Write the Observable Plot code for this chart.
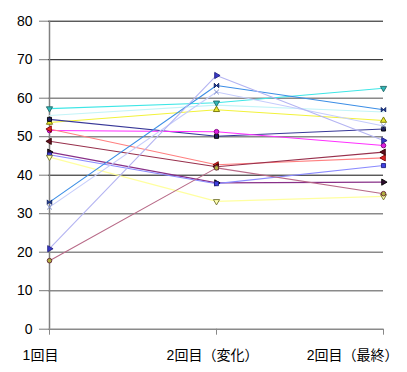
<!DOCTYPE html>
<html>
<head>
<meta charset="utf-8">
<script src="https://cdn.jsdelivr.net/npm/d3@7"></script>
<script src="https://cdn.jsdelivr.net/npm/@observablehq/plot@0.6"></script>
<style>
  html, body { margin: 0; padding: 0; background: #fff; }
  #chart { width: 407px; height: 372px; }
</style>
</head>
<body>
<div id="chart"></div>
<script>
// ---- data ----
const categories = ["1回目", "2回目（変化）", "2回目（最終）"];
const yTicks = [0, 10, 20, 30, 40, 50, 60, 70, 80];

const seriesNames = ["s01","s02","s03","s04","s05","s06","s07","s08","s09","s10","s11","s12","s13","s14"];
const s01 = [57.3, 58.8, 62.6];
const s02 = [55.5, 58.2, 56.4];
const s03 = [53.7, 57.0, 54.2];
const s04 = [54.5, 50.1, 52.0];
const s05 = [51.6, 51.3, 47.7];
const s06 = [52.0, 42.7, 44.5];
const s07 = [48.8, 42.2, 46.0];
const s08 = [46.0, 38.0, 38.2];
const s09 = [45.3, 37.8, 42.5];
const s10 = [44.7, 33.2, 34.5];
const s11 = [33.0, 63.3, 57.0];
const s12 = [31.7, 61.6, 52.8];
const s13 = [20.9, 65.9, 49.0];
const s14 = [17.8, 41.9, 35.2];
const seriesValues = [s01,s02,s03,s04,s05,s06,s07,s08,s09,s10,s11,s12,s13,s14];

// ---- styles ----
const lineColors = ["#3ee6e6","#c4f4f8","#f2f23a","#383898","#ff30ff","#ff8080","#98304c","#883088","#8a8aff","#ffffa0","#3c8ee6","#c6cdfc","#b4b4f2","#b86a88"];
const bowtie = {
  draw(ctx, size) {
    const s = Math.sqrt(size) * 0.55;
    ctx.moveTo(-s, -s); ctx.lineTo(s, s); ctx.lineTo(s, -s); ctx.lineTo(-s, s); ctx.closePath();
  }
};
const markers = [
  {symbol: "triangle", rotate: 180, fill: "#30b8b8", stroke: "#206868"},
  null,
  {symbol: "triangle", rotate: 0, fill: "#e8e830", stroke: "#707000"},
  {symbol: "square", rotate: 0, fill: "#202060", stroke: "#000000"},
  {symbol: "circle", rotate: 0, fill: "#e020e0", stroke: "#800080"},
  {symbol: "triangle", rotate: -90, fill: "#e02828", stroke: "#800000"},
  {symbol: "triangle", rotate: -90, fill: "#601020", stroke: "#300000"},
  {symbol: "triangle", rotate: 90, fill: "#301030", stroke: "#000000"},
  {symbol: "square", rotate: 0, fill: "#4040e0", stroke: "#202080"},
  {symbol: "triangle", rotate: 180, fill: "#ffffb0", stroke: "#707030"},
  {symbol: bowtie, rotate: 0, fill: "#2040a0", stroke: "#102060"},
  {symbol: "times", rotate: 0, fill: "none", stroke: "#7080c0"},
  {symbol: "triangle", rotate: 90, fill: "#3838c8", stroke: "#202080"},
  {symbol: "circle", rotate: 0, fill: "#b0b040", stroke: "#602030"}
];

const rows = [];
seriesNames.forEach((name, i) => {
  categories.forEach((c, j) => rows.push({series: name, cat: c, value: seriesValues[i][j]}));
});

const font = "'Liberation Sans', Arial, 'Noto Sans CJK JP', sans-serif";

const marks = [
  Plot.ruleY(yTicks, {stroke: d => (d === 80 || d === 70 || d === 40) ? "#111" : "#8a8a8a", strokeWidth: d => (d === 80 || d === 70 || d === 40) ? 1 : 1.4, strokeOpacity: 1}),
  Plot.axisY({ticks: yTicks, tickSize: 9, tickPadding: 7, fontSize: 14, stroke: "#777", color: "#000", label: null}),
  Plot.axisX({tickSize: 6, tickFormat: () => "", stroke: "#888", label: null}),
  Plot.ruleX([categories[0]], {y1: 0, y2: 80, stroke: "#808080", strokeWidth: 1.5}),
  Plot.line(rows, {x: "cat", y: "value", z: "series", stroke: "series", strokeWidth: 1.1})
];
seriesNames.forEach((name, i) => {
  const m = markers[i];
  if (!m) return;
  marks.push(Plot.dot(rows.filter(r => r.series === name), {
    x: "cat", y: "value", r: 2.3, symbol: m.symbol, rotate: m.rotate,
    fill: m.fill, stroke: m.stroke, strokeWidth: 0.9
  }));
});
marks.push(
  Plot.text([categories[0]], {x: d => d, y: 0, dy: 26, dx: -9, text: d => d, fontSize: 14, fill: "#000", lineAnchor: "middle"}),
  Plot.text([categories[1]], {x: d => d, y: 0, dy: 26, dx: -4, text: d => d, fontSize: 14, fill: "#000", lineAnchor: "middle"}),
  Plot.text([categories[2]], {x: d => d, y: 0, dy: 26, dx: 15, text: d => d, fontSize: 14, fill: "#000", textAnchor: "end", lineAnchor: "middle"})
);

const chart = Plot.plot({
  width: 407,
  height: 372,
  marginTop: 20.7,
  marginBottom: 43.3,
  marginLeft: 48,
  marginRight: 24,
  style: {fontFamily: font, background: "#fff", overflow: "visible"},
  x: {type: "point", domain: categories, padding: 0, axis: null},
  y: {domain: [0, 80], axis: null},
  color: {type: "ordinal", domain: seriesNames, range: lineColors},
  marks
});
document.getElementById("chart").appendChild(chart);
</script>
</body>
</html>
